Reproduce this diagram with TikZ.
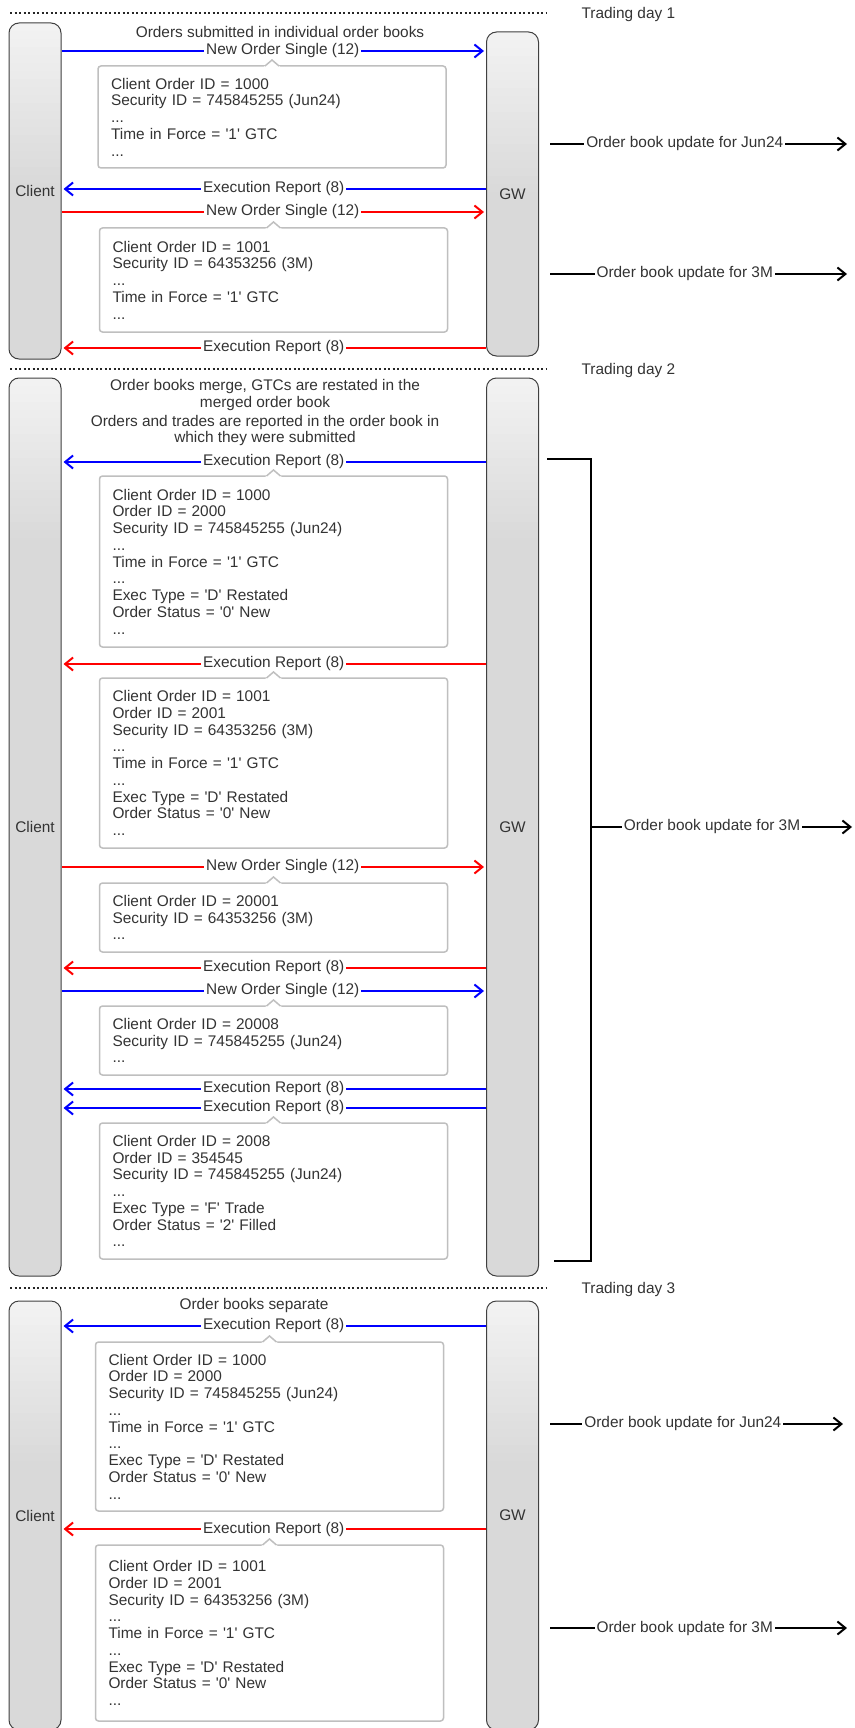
\documentclass[tikz,border=0pt]{standalone}
\usepackage{fontspec}
\setmainfont{Liberation Sans}[Ligatures=TeXOff]
\usetikzlibrary{arrows.meta}

% small pointer on top of a message note
\newcommand{\memotip}[1]{%
	\fill[white] ([xshift=-8.5pt,yshift=-1.2pt]#1.north) -- ([yshift=6pt]#1.north) -- ([xshift=8.5pt,yshift=-1.2pt]#1.north) -- cycle;
	\draw[black!25, line width=1.5pt] ([xshift=-7pt]#1.north) -- ([yshift=6pt]#1.north) -- ([xshift=7pt]#1.north);}

\begin{document}
\begin{tikzpicture}[x=1pt, y=-1pt, font=\fontsize{15.4}{16.75}\selectfont, text=black!80]
	\tikzstyle{lifeline} = [draw=black!75, line width=1pt, rounded corners=10pt, fill=black!15, minimum width=52pt, inner sep=0pt,
		path picture={\foreach \i [evaluate=\i as \p using 5+\i*0.5] in {0,...,20}
			\fill[black!\p, sharp corners] ([yshift=-8pt*\i]path picture bounding box.north west) rectangle ([yshift=-8pt*\i-8.5pt]path picture bounding box.north east);}]
	\tikzstyle{memo} = [draw=black!25, line width=1.5pt, rounded corners=3pt, fill=white, outer sep=0pt, inner xsep=13pt, text width=322pt, align=left]
	\tikzstyle{msg} = [line width=2pt, shorten >=2pt, -{Straight Barb[length=8pt,width=13pt]}]
	\tikzstyle{upd} = [msg, black]
	\tikzstyle{tag} = [fill=white, inner sep=2pt, text=black!80]
	\tikzstyle{dayline} = [black!85, line width=2pt, dash pattern=on 2pt off 2.5pt]
	\useasboundingbox (0,0) rectangle (854,1728);
	% day separators
	\foreach \y/\d in {13/1, 369/2, 1288/3} {
		\draw[dayline] (10,\y) -- (547,\y);
		\node[anchor=west] (day\d) at (578,\y+2) {Trading day \d};
	}
	% trading day 1
	\node[lifeline, minimum height=336pt] (client1) at (35,191) {Client};
	\node[lifeline, minimum height=324pt] (gw1) at (512.5,194) {GW};
	\node (head1) at (280,32) {Orders submitted in individual order books};
	\draw[msg, blue] (client1.east |- 0,51) -- node[tag, xshift=9pt] {New Order Single (12)} (gw1.west |- 0,51);
	\node[memo, minimum height=102pt] (memo1) at (272,117) {Client Order ID = 1000\\Security ID = 745845255 (Jun24)\\...\\Time in Force = '1' GTC\\...};
	\draw[upd, shorten <=11pt] (gw1.east |- 0,144) -- node[tag, pos=.47] {Order book update for Jun24} ++(310,0);
	\draw[msg, blue] (gw1.west |- 0,189) -- node[tag] {Execution Report (8)} (client1.east |- 0,189);
	\draw[msg, red] (client1.east |- 0,212) -- node[tag, xshift=9pt] {New Order Single (12)} (gw1.west |- 0,212);
	\node[memo, minimum height=104pt] (memo2) at (273.5,280) {Client Order ID = 1001\\Security ID = 64353256 (3M)\\...\\Time in Force = '1' GTC\\...};
	\draw[upd, shorten <=11pt] (gw1.east |- 0,274) -- node[tag, pos=.47] {Order book update for 3M} ++(310,0);
	\draw[msg, red] (gw1.west |- 0,348) -- node[tag] {Execution Report (8)} (client1.east |- 0,348);
	% trading day 2
	\node[lifeline, minimum height=898pt] (client2) at (35,827) {Client};
	\node[lifeline, minimum height=898pt] (gw2) at (512.5,827) {GW};
	\node[align=center] (head2) at (265,395) {Order books merge, GTCs are restated in the\\merged order book};
	\node[align=center] (head3) at (265,430.5) {Orders and trades are reported in the order book in\\which they were submitted};
	\draw[msg, blue] (gw2.west |- 0,462) -- node[tag] {Execution Report (8)} (client2.east |- 0,462);
	\node[memo, minimum height=171pt] (memo3) at (273.5,561.5) {Client Order ID = 1000\\Order ID = 2000\\Security ID = 745845255 (Jun24)\\...\\Time in Force = '1' GTC\\...\\Exec Type = 'D' Restated\\Order Status = '0' New\\...};
	\draw[msg, red] (gw2.west |- 0,664) -- node[tag] {Execution Report (8)} (client2.east |- 0,664);
	\node[memo, minimum height=170pt] (memo4) at (273.5,763) {Client Order ID = 1001\\Order ID = 2001\\Security ID = 64353256 (3M)\\...\\Time in Force = '1' GTC\\...\\Exec Type = 'D' Restated\\Order Status = '0' New\\...};
	\draw[msg, red] (client2.east |- 0,867) -- node[tag, xshift=9pt] {New Order Single (12)} (gw2.west |- 0,867);
	\node[memo, minimum height=69pt] (memo5) at (273.5,917.5) {Client Order ID = 20001\\Security ID = 64353256 (3M)\\...};
	\draw[msg, red] (gw2.west |- 0,968) -- node[tag] {Execution Report (8)} (client2.east |- 0,968);
	\draw[msg, blue] (client2.east |- 0,991) -- node[tag, xshift=9pt] {New Order Single (12)} (gw2.west |- 0,991);
	\node[memo, minimum height=69pt] (memo6) at (273.5,1040.5) {Client Order ID = 20008\\Security ID = 745845255 (Jun24)\\...};
	\draw[msg, blue] (gw2.west |- 0,1089) -- node[tag] {Execution Report (8)} (client2.east |- 0,1089);
	\draw[msg, blue] (gw2.west |- 0,1108) -- node[tag] {Execution Report (8)} (client2.east |- 0,1108);
	\node[memo, minimum height=136pt] (memo7) at (273.5,1191) {Client Order ID = 2008\\Order ID = 354545\\Security ID = 745845255 (Jun24)\\...\\Exec Type = 'F' Trade\\Order Status = '2' Filled\\...};
	% merged book bracket
	\coordinate (brtop) at (547,459);
	\coordinate (brbot) at (554,1261);
	\coordinate (brmid) at (591,827);
	\draw[black, line width=2pt] (brtop) -- ++(44,0) |- (brbot);
	\draw[upd] (brmid) -- node[tag, pos=.46] {Order book update for 3M} ++(263,0);
	% trading day 3
	\node[lifeline, minimum height=429pt] (client3) at (35,1515.5) {Client};
	\node[lifeline, minimum height=429pt] (gw3) at (512.5,1515.5) {GW};
	\node (head4) at (254,1306) {Order books separate};
	\draw[msg, blue] (gw3.west |- 0,1326) -- node[tag] {Execution Report (8)} (client3.east |- 0,1326);
	\node[memo, minimum height=169pt] (memo8) at (269.5,1426.5) {Client Order ID = 1000\\Order ID = 2000\\Security ID = 745845255 (Jun24)\\...\\Time in Force = '1' GTC\\...\\Exec Type = 'D' Restated\\Order Status = '0' New\\...};
	\draw[upd, shorten <=11pt] (gw3.east |- 0,1424) -- node[tag, pos=.47] {Order book update for Jun24} ++(306,0);
	\draw[msg, red] (gw3.west |- 0,1529) -- node[tag] {Execution Report (8)} (client3.east |- 0,1529);
	\node[memo, minimum height=176pt] (memo9) at (269.5,1633) {Client Order ID = 1001\\Order ID = 2001\\Security ID = 64353256 (3M)\\...\\Time in Force = '1' GTC\\...\\Exec Type = 'D' Restated\\Order Status = '0' New\\...};
	\draw[upd, shorten <=11pt] (gw3.east |- 0,1628) -- node[tag, pos=.47] {Order book update for 3M} ++(310,0);
	% note pointers
	\foreach \m in {1,...,9} {
		\memotip{memo\m}
	}
\end{tikzpicture}
\end{document}
